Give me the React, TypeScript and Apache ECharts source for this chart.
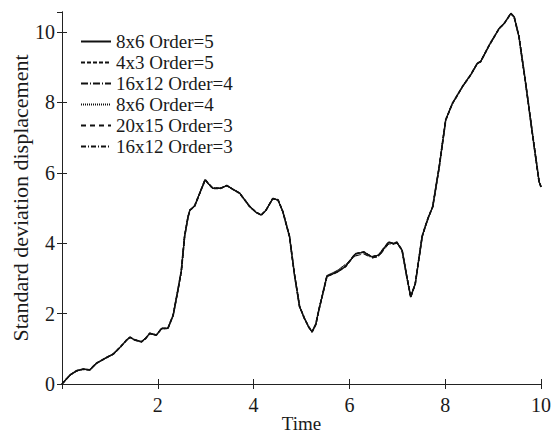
import React, { useEffect, useRef } from "react";
import * as echarts from "echarts";

const timeValues = [
  0.0, 0.17, 0.31, 0.44, 0.58, 0.72, 0.9, 1.07, 1.21, 1.35, 1.42, 1.52, 1.66, 1.75, 1.83, 1.97,
  2.08, 2.21, 2.32, 2.42, 2.49, 2.56, 2.63, 2.67, 2.77, 2.875, 2.99, 3.05, 3.15, 3.31, 3.44, 3.57,
  3.71, 3.92, 4.05, 4.16, 4.26, 4.4, 4.51, 4.61, 4.75, 4.85, 4.96, 5.06, 5.15, 5.22, 5.3, 5.36,
  5.45, 5.53, 5.74, 5.92, 6.125, 6.3, 6.47, 6.61, 6.82, 6.92, 6.99, 7.1, 7.2, 7.28, 7.375, 7.52,
  7.58, 7.65, 7.74, 7.875, 8.01, 8.15, 8.36, 8.53, 8.67, 8.74, 8.92, 9.125, 9.23, 9.37, 9.44, 9.54,
  9.68, 9.82, 9.96, 10.0,
];

const displacementMain = [
  0.0, 0.26, 0.38, 0.42, 0.4, 0.59, 0.73, 0.85, 1.04, 1.25, 1.33, 1.25, 1.2, 1.3, 1.44, 1.39,
  1.58, 1.58, 1.95, 2.67, 3.2, 4.2, 4.74, 4.94, 5.06, 5.42, 5.81, 5.7, 5.56, 5.56, 5.64, 5.53,
  5.42, 5.04, 4.88, 4.8, 4.94, 5.27, 5.23, 4.9, 4.19, 3.14, 2.2, 1.87, 1.62, 1.48, 1.7, 2.09,
  2.6, 3.06, 3.18, 3.34, 3.7, 3.75, 3.61, 3.66, 4.03, 3.99, 4.03, 3.8, 3.04, 2.47, 2.85, 4.2,
  4.46, 4.74, 5.04, 6.17, 7.5, 7.97, 8.45, 8.78, 9.11, 9.16, 9.63, 10.1, 10.24, 10.53, 10.43, 9.87,
  8.54, 7.12, 5.75, 5.6,
];

const displacementOrder3 = [
  0.0, 0.25, 0.37, 0.42, 0.41, 0.58, 0.73, 0.86, 1.04, 1.24, 1.33, 1.26, 1.21, 1.3, 1.43, 1.39,
  1.57, 1.58, 1.95, 2.66, 3.2, 4.2, 4.74, 4.94, 5.06, 5.42, 5.8, 5.7, 5.56, 5.57, 5.63, 5.53,
  5.42, 5.05, 4.88, 4.81, 4.94, 5.26, 5.23, 4.9, 4.19, 3.14, 2.2, 1.86, 1.62, 1.49, 1.7, 2.09,
  2.6, 3.08, 3.22, 3.4, 3.64, 3.7, 3.58, 3.62, 3.98, 3.97, 4.0, 3.8, 3.04, 2.48, 2.85, 4.2,
  4.46, 4.74, 5.04, 6.17, 7.5, 7.97, 8.45, 8.78, 9.11, 9.16, 9.63, 10.1, 10.24, 10.53, 10.43, 9.87,
  8.54, 7.12, 5.75, 5.6,
];

const seriesNames = [
  "8x6 Order=5",
  "4x3 Order=5",
  "16x12 Order=4",
  "8x6 Order=4",
  "20x15 Order=3",
  "16x12 Order=3",
];

const seriesValues = [
  displacementMain,
  displacementMain,
  displacementMain,
  displacementMain,
  displacementOrder3,
  displacementOrder3,
];

const lineDashes: (string | number[])[] = [
  "solid",
  [4, 2],
  [7, 2, 1, 2],
  [1, 1],
  [5, 4],
  [5, 2, 1, 2],
];
const lineWidths = [1.3, 1.7, 1, 1.5, 1, 0.9];

const X_TICK_LABELS = ["2", "4", "6", "8", "10"];
const Y_TICK_LABELS = ["0", "2", "4", "6", "8", "10"];

const FONT = '"Liberation Serif", "Times New Roman", serif';

export default function App() {
  const ref = useRef<HTMLDivElement>(null);

  useEffect(() => {
    if (!ref.current) return;
    const chart = echarts.init(ref.current, undefined, { renderer: "svg" });

    const axisLine = { show: true, lineStyle: { color: "#222", width: 1 } };
    const axisTick = { show: true, inside: true, length: 5, lineStyle: { color: "#222", width: 1 } };

    chart.setOption({
      animation: false,
      backgroundColor: "#fff",
      grid: {
        left: 62,
        right: 10,
        top: 12,
        bottom: 50,
        containLabel: false,
        outerBoundsMode: "none",
      },
      legend: {
        orient: "vertical",
        left: 80,
        top: 32,
        padding: 0,
        itemWidth: 30,
        itemHeight: 14,
        itemGap: 2,
        data: seriesNames,
        itemStyle: { color: "transparent", borderWidth: 0, opacity: 0 },
        textStyle: { fontFamily: FONT, fontSize: 19, color: "#1a1a1a" },
      },
      xAxis: [
        {
          type: "value",
          min: 0,
          max: 10,
          interval: 2,
          name: "Time",
          nameLocation: "middle",
          nameGap: 29,
          nameMoveOverlap: false,
          nameTextStyle: { fontFamily: FONT, fontSize: 19, color: "#1a1a1a", lineHeight: 20 },
          axisLine,
          axisTick,
          splitLine: { show: false },
          axisLabel: {
            fontFamily: FONT,
            fontSize: 20,
            color: "#1a1a1a",
            margin: 11,
            formatter: (v: number) => (X_TICK_LABELS.includes(String(v)) ? String(v) : ""),
          },
        },
        {
          type: "value",
          position: "top",
          min: 0,
          max: 10,
          interval: 2,
          axisLine,
          axisTick,
          splitLine: { show: false },
          axisLabel: { show: false },
        },
      ],
      yAxis: [
        {
          type: "value",
          min: 0,
          max: 10.57,
          interval: 2,
          name: "Standard deviation displacement",
          nameLocation: "middle",
          nameGap: 31,
          nameMoveOverlap: false,
          nameTextStyle: { fontFamily: FONT, fontSize: 22, color: "#1a1a1a" },
          axisLine,
          axisTick,
          splitLine: { show: false },
          axisLabel: {
            fontFamily: FONT,
            fontSize: 20,
            color: "#1a1a1a",
            margin: 7,
            showMaxLabel: false,
            formatter: (v: number) => (Y_TICK_LABELS.includes(String(v)) ? String(v) : ""),
          },
        },
        {
          type: "value",
          position: "right",
          min: 0,
          max: 10.57,
          interval: 2,
          axisLine,
          axisTick,
          splitLine: { show: false },
          axisLabel: { show: false },
        },
      ],
      series: seriesNames.map((name, i) => ({
        name,
        type: "line",
        xAxisIndex: 0,
        yAxisIndex: 0,
        symbol: "none",
        showSymbol: false,
        clip: true,
        lineStyle: { color: "#111", width: lineWidths[i], type: lineDashes[i] },
        itemStyle: { color: "#111" },
        data: timeValues.map((t, k) => [t, seriesValues[i][k]]),
      })),
    });

    return () => chart.dispose();
  }, []);

  return (
    <div
      ref={ref}
      style={{ position: "fixed", left: 0, top: 0, width: 551, height: 434, background: "#fff" }}
    />
  );
}
